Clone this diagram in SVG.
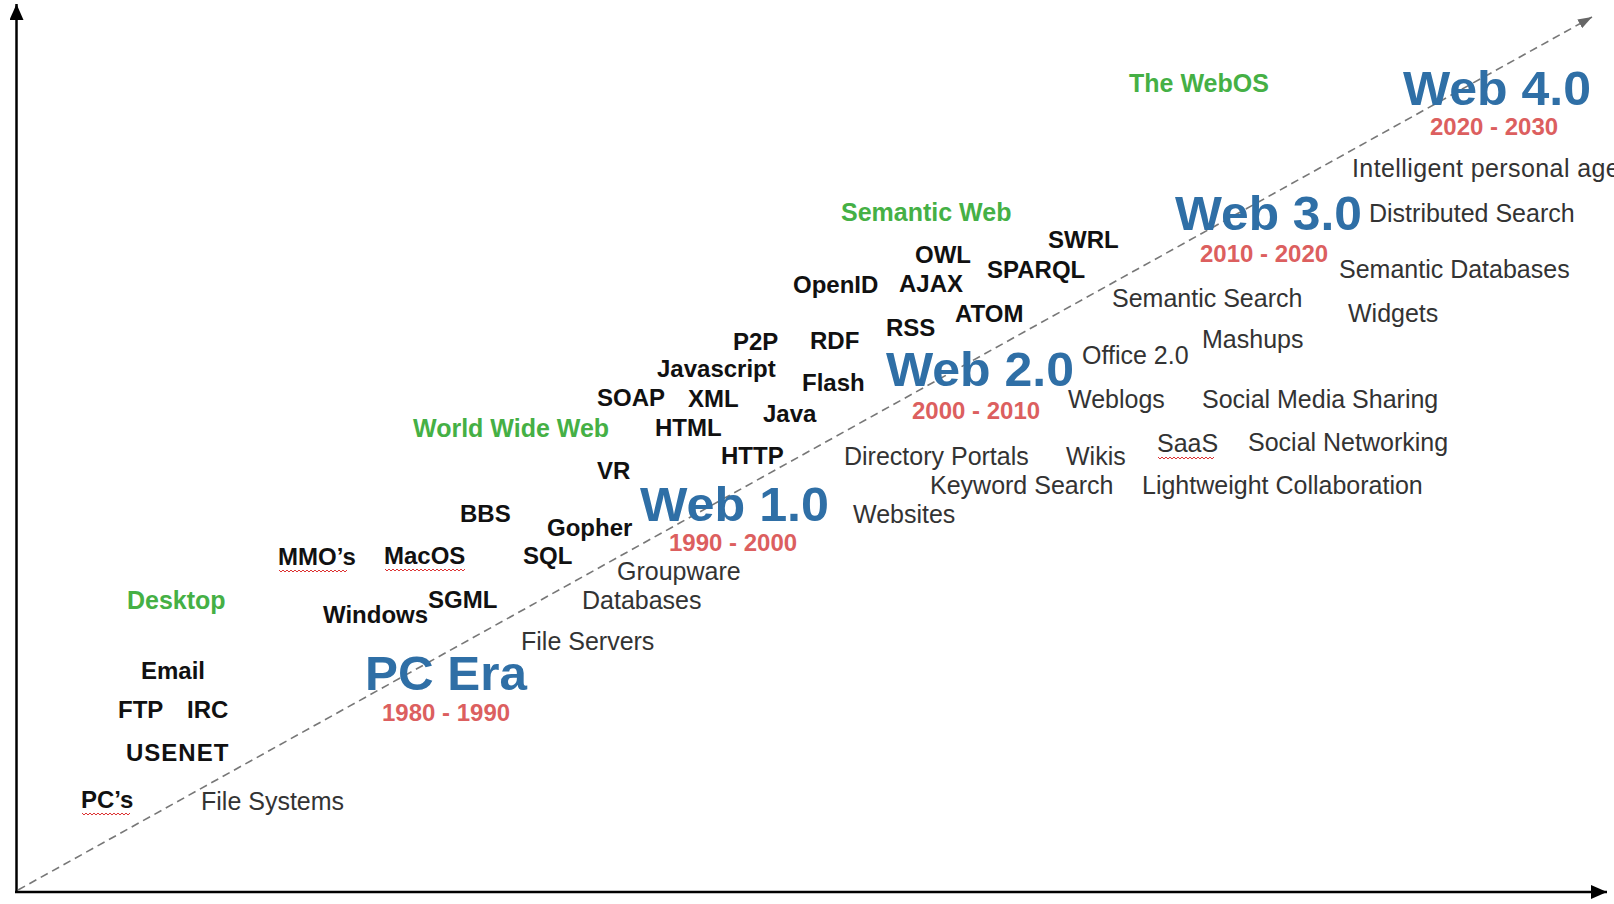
<svg xmlns="http://www.w3.org/2000/svg" width="1614" height="904" viewBox="0 0 1614 904">
<style>
text{font-family:"Liberation Sans",Arial,sans-serif}
.era{font-size:49px;font-weight:bold;fill:#2f6fa6}
.yr{font-size:24px;font-weight:bold;fill:#dc5f5f}
.grn{font-size:25px;font-weight:bold;fill:#45b045}
.tech{font-size:24px;font-weight:bold;fill:#111}
.app{font-size:25px;fill:#333}
.sq{fill:none;stroke:#d33;stroke-width:1}
</style>
<defs>
<marker id="ah" viewBox="0 0 16 14" refX="16" refY="7" markerWidth="16" markerHeight="14" markerUnits="userSpaceOnUse" orient="auto">
<path d="M0,0 L16,7 L0,14 Z" fill="#000"/>
</marker>
<marker id="ahg" viewBox="0 0 14 10" refX="14" refY="5" markerWidth="14" markerHeight="10" markerUnits="userSpaceOnUse" orient="auto">
<path d="M0,0 L14,5 L0,10 Z" fill="#666"/>
</marker>
</defs>
<rect width="1614" height="904" fill="#fff"/>
<g id="connectors">
<line x1="16.5" y1="893" x2="16.5" y2="4" stroke="#000" stroke-width="2.5" marker-end="url(#ah)"/>
<line x1="15" y1="892" x2="1607" y2="892" stroke="#000" stroke-width="2.5" marker-end="url(#ah)"/>
<line x1="18" y1="890" x2="1592" y2="17" stroke="#777" stroke-width="1.6" stroke-dasharray="8 5" marker-end="url(#ahg)"/>
</g>
<g id="web40"><text class="era" x="1403" y="105" textLength="188" lengthAdjust="spacingAndGlyphs">Web 4.0</text><text class="yr" x="1430" y="135">2020 - 2030</text></g>
<g id="web30"><text class="era" x="1175" y="230" textLength="187" lengthAdjust="spacingAndGlyphs">Web 3.0</text><text class="yr" x="1200" y="262">2010 - 2020</text></g>
<g id="web20"><text class="era" x="886" y="386" textLength="188" lengthAdjust="spacingAndGlyphs">Web 2.0</text><text class="yr" x="912" y="419">2000 - 2010</text></g>
<g id="web10"><text class="era" x="640" y="521" textLength="189" lengthAdjust="spacingAndGlyphs">Web 1.0</text><text class="yr" x="669" y="551">1990 - 2000</text></g>
<g id="pcera"><text class="era" x="365" y="690" textLength="162" lengthAdjust="spacingAndGlyphs">PC Era</text><text class="yr" x="382" y="721">1980 - 1990</text></g>
<g id="webos"><text class="grn" x="1129" y="92">The WebOS</text></g>
<g id="semanticweb"><text class="grn" x="841" y="221">Semantic Web</text></g>
<g id="www"><text class="grn" x="413" y="437">World Wide Web</text></g>
<g id="desktop"><text class="grn" x="127" y="609">Desktop</text></g>
<g id="swrl"><text class="tech" x="1048" y="248">SWRL</text></g>
<g id="owl"><text class="tech" x="915" y="263">OWL</text></g>
<g id="sparql"><text class="tech" x="987" y="278">SPARQL</text></g>
<g id="openid"><text class="tech" x="793" y="293">OpenID</text></g>
<g id="ajax"><text class="tech" x="899" y="292">AJAX</text></g>
<g id="atom"><text class="tech" x="955" y="322">ATOM</text></g>
<g id="rss"><text class="tech" x="886" y="336">RSS</text></g>
<g id="p2p"><text class="tech" x="733" y="350">P2P</text></g>
<g id="rdf"><text class="tech" x="810" y="349">RDF</text></g>
<g id="javascript"><text class="tech" x="657" y="377">Javascript</text></g>
<g id="flash"><text class="tech" x="802" y="391">Flash</text></g>
<g id="soap"><text class="tech" x="597" y="406">SOAP</text></g>
<g id="xml"><text class="tech" x="688" y="407">XML</text></g>
<g id="java"><text class="tech" x="763" y="422">Java</text></g>
<g id="html"><text class="tech" x="655" y="436">HTML</text></g>
<g id="http"><text class="tech" x="721" y="464">HTTP</text></g>
<g id="vr"><text class="tech" x="597" y="479">VR</text></g>
<g id="bbs"><text class="tech" x="460" y="522">BBS</text></g>
<g id="gopher"><text class="tech" x="547" y="536">Gopher</text></g>
<g id="sql"><text class="tech" x="523" y="564">SQL</text></g>
<g id="mmos"><text class="tech" x="278" y="565">MMO’s</text><path class="sq" d="M279,570 l2,2 l2,-2 l2,2 l2,-2 l2,2 l2,-2 l2,2 l2,-2 l2,2 l2,-2 l2,2 l2,-2 l2,2 l2,-2 l2,2 l2,-2 l2,2 l2,-2 l2,2 l2,-2 l2,2 l2,-2 l2,2 l2,-2 l2,2 l2,-2 l2,2 l2,-2 l2,2 l2,-2 l2,2 l2,-2 l2,2 l2,-2"/></g>
<g id="macos"><text class="tech" x="384" y="564">MacOS</text><path class="sq" d="M385,569 l2,2 l2,-2 l2,2 l2,-2 l2,2 l2,-2 l2,2 l2,-2 l2,2 l2,-2 l2,2 l2,-2 l2,2 l2,-2 l2,2 l2,-2 l2,2 l2,-2 l2,2 l2,-2 l2,2 l2,-2 l2,2 l2,-2 l2,2 l2,-2 l2,2 l2,-2 l2,2 l2,-2 l2,2 l2,-2 l2,2 l2,-2 l2,2 l2,-2 l2,2 l2,-2 l2,2 l2,-2"/></g>
<g id="sgml"><text class="tech" x="428" y="608">SGML</text></g>
<g id="windows"><text class="tech" x="323" y="623">Windows</text></g>
<g id="email"><text class="tech" x="141" y="679">Email</text></g>
<g id="ftp"><text class="tech" x="118" y="718">FTP</text></g>
<g id="irc"><text class="tech" x="187" y="718">IRC</text></g>
<g id="usenet"><text class="tech" x="126" y="761" letter-spacing="1">USENET</text></g>
<g id="pcs"><text class="tech" x="81" y="808">PC’s</text><path class="sq" d="M82,813 l2,2 l2,-2 l2,2 l2,-2 l2,2 l2,-2 l2,2 l2,-2 l2,2 l2,-2 l2,2 l2,-2 l2,2 l2,-2 l2,2 l2,-2 l2,2 l2,-2 l2,2 l2,-2 l2,2 l2,-2 l2,2 l2,-2"/></g>
<g id="intelligent"><text class="app" x="1352" y="177" letter-spacing="0.4">Intelligent personal agents</text></g>
<g id="distributed"><text class="app" x="1369" y="222">Distributed Search</text></g>
<g id="semdb"><text class="app" x="1339" y="278">Semantic Databases</text></g>
<g id="semsearch"><text class="app" x="1112" y="307">Semantic Search</text></g>
<g id="widgets"><text class="app" x="1348" y="322">Widgets</text></g>
<g id="mashups"><text class="app" x="1202" y="348">Mashups</text></g>
<g id="office"><text class="app" x="1082" y="364">Office 2.0</text></g>
<g id="weblogs"><text class="app" x="1068" y="408">Weblogs</text></g>
<g id="smsharing"><text class="app" x="1202" y="408">Social Media Sharing</text></g>
<g id="saas"><text class="app" x="1157" y="452">SaaS</text><path class="sq" d="M1158,457 l2,2 l2,-2 l2,2 l2,-2 l2,2 l2,-2 l2,2 l2,-2 l2,2 l2,-2 l2,2 l2,-2 l2,2 l2,-2 l2,2 l2,-2 l2,2 l2,-2 l2,2 l2,-2 l2,2 l2,-2 l2,2 l2,-2 l2,2 l2,-2 l2,2 l2,-2"/></g>
<g id="socialnet"><text class="app" x="1248" y="451">Social Networking</text></g>
<g id="dirportals"><text class="app" x="844" y="465">Directory Portals</text></g>
<g id="wikis"><text class="app" x="1066" y="465">Wikis</text></g>
<g id="keyword"><text class="app" x="930" y="494">Keyword Search</text></g>
<g id="lightweight"><text class="app" x="1142" y="494">Lightweight Collaboration</text></g>
<g id="websites"><text class="app" x="853" y="523">Websites</text></g>
<g id="groupware"><text class="app" x="617" y="580">Groupware</text></g>
<g id="databases"><text class="app" x="582" y="609">Databases</text></g>
<g id="fileservers"><text class="app" x="521" y="650">File Servers</text></g>
<g id="filesystems"><text class="app" x="201" y="810">File Systems</text></g>
</svg>
